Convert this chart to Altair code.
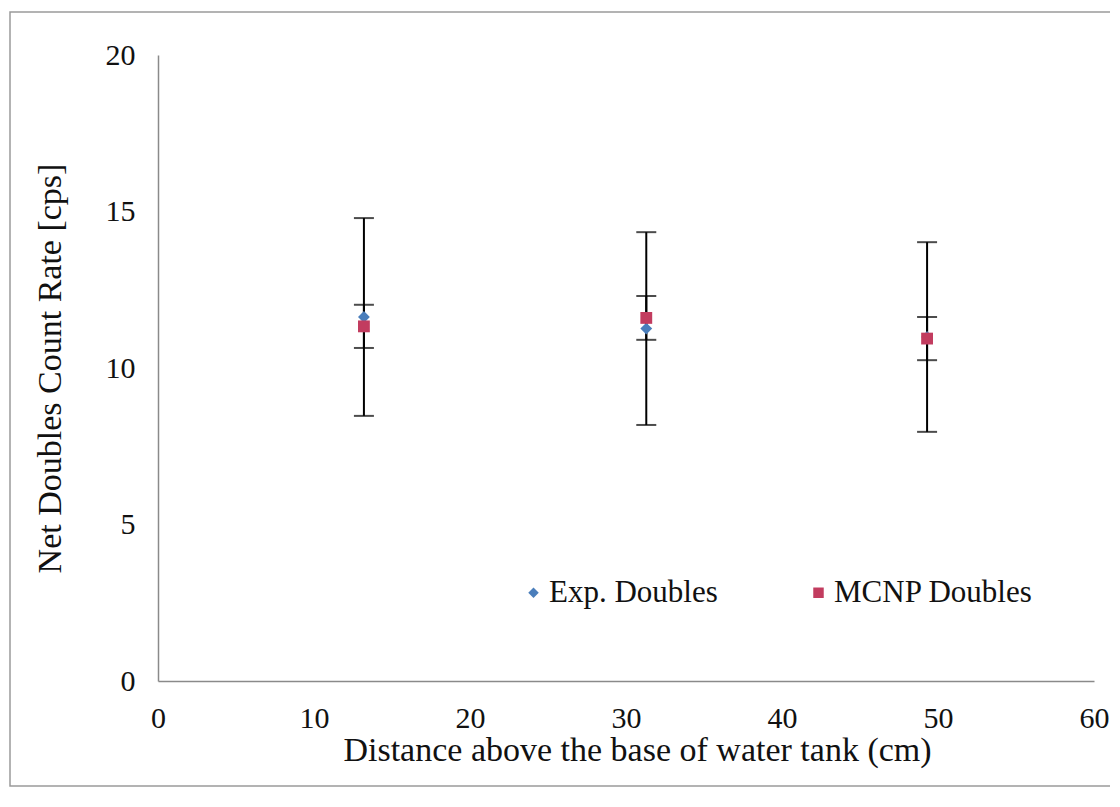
import altair as alt
import pandas as pd

# ---- data ----
positions_cm = [13.2, 31.3, 49.3]
exp_doubles = [11.63, 11.26, 10.99]
exp_err = [3.16, 3.08, 3.03]
mcnp_doubles = [11.33, 11.60, 10.94]
mcnp_err = [0.69, 0.70, 0.69]
series_names = ["Exp. Doubles", "MCNP Doubles"]
series_colors = ["#4A7EBB", "#C23C5F"]
series_shapes = ["diamond", "square"]
x_ticks = [0, 10, 20, 30, 40, 50, 60]
y_ticks = [0, 5, 10, 15, 20]

FONT = "Liberation Serif"

pts_rows = []
err_rows = []
cap_rows = []
for name, vals, errs in [(series_names[0], exp_doubles, exp_err),
                         (series_names[1], mcnp_doubles, mcnp_err)]:
    for x, v, e in zip(positions_cm, vals, errs):
        pts_rows.append({"series": name, "x": x, "y": v})
        err_rows.append({"series": name, "x": x, "lo": v - e, "hi": v + e})
        cap_rows.append({"series": name, "x": x, "v": v - e})
        cap_rows.append({"series": name, "x": x, "v": v + e})

pts_df = pd.DataFrame(pts_rows)
err_df = pd.DataFrame(err_rows)
cap_df = pd.DataFrame(cap_rows)

x_scale = alt.Scale(domain=[0, 60], nice=False, zero=False)
y_scale = alt.Scale(domain=[0, 20], nice=False)

x_axis = alt.Axis(
    values=x_ticks, title="Distance  above the base of water tank (cm)",
    labelPadding=22, labelFlush=False, titleX=479, titleY=69,
    titleBaseline="middle", titleAlign="center",
)
y_axis = alt.Axis(
    values=y_ticks, title="Net Doubles Count Rate [cps]",
    labelPadding=23, labelFlush=False, titleX=-108, titleY=313,
    titleAngle=-90, titleBaseline="middle", titleAlign="center",
)

frame = alt.Chart(pd.DataFrame({"k": [0]})).mark_rect(
    fill="white", fillOpacity=0, stroke="#9a9a9a", strokeWidth=1.5
).encode(
    x=alt.value(-148), x2=alt.value(1100), y=alt.value(-43), y2=alt.value(731)
)

rules = alt.Chart(err_df).mark_rule(color="black", strokeWidth=2).encode(
    x=alt.X("x:Q", scale=x_scale, axis=x_axis),
    y=alt.Y("lo:Q", scale=y_scale, axis=y_axis),
    y2="hi:Q",
)

caps = alt.Chart(cap_df).mark_tick(
    orient="horizontal", size=20, thickness=2, color="black"
).encode(
    x=alt.X("x:Q", scale=x_scale),
    y=alt.Y("v:Q", scale=y_scale),
)

points = alt.Chart(pts_df).mark_point(filled=True, opacity=1, size=140).encode(
    x=alt.X("x:Q", scale=x_scale),
    y=alt.Y("y:Q", scale=y_scale),
    color=alt.Color(
        "series:N",
        scale=alt.Scale(domain=series_names, range=series_colors),
        legend=alt.Legend(
            title=None, orient="none", direction="horizontal",
            legendX=360, legendY=522, padding=0,
            labelFont=FONT, labelFontSize=31, labelColor="#111",
            labelOffset=0, columnPadding=85, symbolSize=110,
            labelLimit=400,
        ),
    ),
    shape=alt.Shape(
        "series:N",
        scale=alt.Scale(domain=series_names, range=series_shapes),
    ),
)

chart = alt.layer(frame, rules, caps, points).properties(
    width=936, height=626,
    autosize=alt.AutoSizeParams(type="none"),
    padding={"left": 150, "top": 47, "right": 16, "bottom": 107},
).configure_view(strokeWidth=0).configure_axis(
    grid=False, ticks=False, domainColor="#8a8a8a", domainWidth=1.5,
    labelFont=FONT, labelFontSize=30, labelColor="#111",
    titleFont=FONT, titleFontSize=34, titleFontWeight="normal",
    titleColor="#111",
)

chart.save("out.html", embed_options={"renderer": "svg", "actions": False})
